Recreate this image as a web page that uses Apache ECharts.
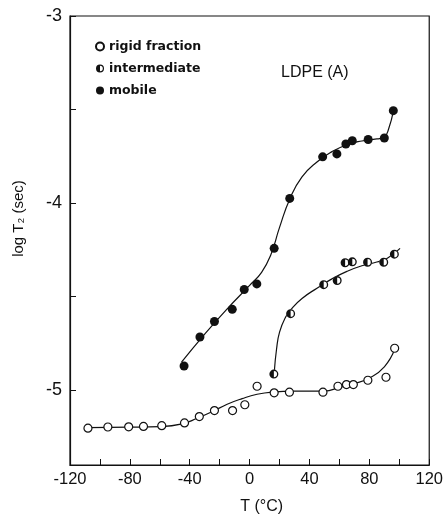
<!DOCTYPE html>
<html>
<head>
<meta charset="utf-8">
<script src="https://cdn.jsdelivr.net/npm/echarts@6/dist/echarts.min.js"></script>
<style>html,body{margin:0;padding:0;background:#fff}#c{width:446px;height:520px}</style>
</head>
<body>
<div id="c"></div>
<script>
// Measured points [T (°C), log T2 (sec)]
const rigidPts = [[-108,-5.203],[-94.7,-5.197],[-80.8,-5.196],[-70.9,-5.194],[-58.7,-5.19],[-43.5,-5.175],[-33.6,-5.141],[-23.5,-5.109],[-11.4,-5.109],[-3.2,-5.078],[5,-4.979],[16.4,-5.014],[26.6,-5.011],[49,-5.011],[59,-4.979],[64.7,-4.97],[69.3,-4.97],[79,-4.947],[91.1,-4.931],[96.9,-4.776]];
const intermPts = [[16.2,-4.914],[27.4,-4.591],[49.5,-4.436],[58.5,-4.414],[63.8,-4.319],[68.6,-4.314],[78.8,-4.316],[89.6,-4.316],[96.7,-4.273]];
const mobilePts = [[-43.8,-4.871],[-33.2,-4.716],[-23.5,-4.633],[-11.6,-4.568],[-3.6,-4.462],[4.8,-4.432],[16.4,-4.242],[26.8,-3.975],[48.8,-3.753],[58.3,-3.737],[64.3,-3.684],[68.6,-3.667],[79.2,-3.66],[90,-3.652],[96,-3.506]];

// Hand-drawn fit curves
const rigidCurve = [[-108,-5.2],[-80,-5.198],[-60,-5.195],[-45,-5.18],[-35,-5.15],[-25,-5.115],[-15,-5.075],[-5,-5.045],[5,-5.022],[15,-5.01],[30,-5.005],[50,-5.005],[60,-4.985],[70,-4.965],[80,-4.935],[90,-4.875],[97,-4.78]];
const intermCurve = [[16.5,-4.9],[18,-4.78],[20,-4.69],[24,-4.61],[28,-4.565],[35,-4.51],[45,-4.455],[55,-4.405],[65,-4.365],[75,-4.335],[85,-4.315],[92,-4.295],[100.5,-4.242]];
const mobileCurve = [[-45.5,-4.85],[-30,-4.7],[-15,-4.565],[0,-4.44],[8,-4.37],[14,-4.28],[20,-4.13],[27,-3.975],[35,-3.86],[45,-3.78],[55,-3.725],[65,-3.688],[75,-3.668],[85,-3.657],[90,-3.647],[93,-3.6],[96,-3.51]];

const xRange = [-120,120];
const xTickValues = [-120,-100,-80,-60,-40,-20,0,20,40,60,80,100,120];
const xLabelValues = [-120,-80,-40,0,40,80,120];
const yTickValues = [-5,-4.5,-4,-3.5,-3];
const yLabelValues = [-5,-4,-3];
const seriesNames = ['rigid fraction','intermediate','mobile'];

const halfPath = 'path://M10 0A10 10 0 1 1 10 20A10 10 0 1 1 10 0ZM10 3A7 7 0 1 0 10 17A7 7 0 1 0 10 3ZM10 3A7 7 0 0 0 10 17Z';
const FONT = 'Liberation Sans';
const INK = '#111';

const chart = echarts.init(document.getElementById('c'), null, {renderer:'canvas'});
const lineSeries = (d) => ({type:'line', data:d, smooth:0.5, showSymbol:false, silent:true, z:1,
  lineStyle:{color:INK, width:1.2}});
chart.setOption({
  animation:false,
  backgroundColor:'#fff',
  title:{text:'LDPE (A)', left:276, top:60, textStyle:{fontFamily:FONT, fontWeight:'normal', fontSize:16, color:INK}},
  legend:{orient:'vertical', left:90, top:35, itemGap:9, itemWidth:8, itemHeight:8,
    textStyle:{fontFamily:'DejaVu Sans', fontWeight:'bold', fontSize:12.5, color:INK},
    data:[{name:seriesNames[0]},{name:seriesNames[1], icon:halfPath},{name:seriesNames[2]}]},
  grid:{left:70, right:14, top:16, bottom:51, show:true, borderColor:INK, borderWidth:1.2},
  xAxis:{type:'value', min:xRange[0], max:xRange[1], interval:20,
    name:'T (°C)', nameLocation:'middle', nameGap:34,
    nameTextStyle:{fontFamily:FONT, fontSize:16, color:INK, padding:[0,0,0,24]},
    axisLine:{onZero:false, lineStyle:{color:INK, width:1.2}},
    axisTick:{inside:true, length:6, customValues:xTickValues, lineStyle:{color:INK}},
    axisLabel:{customValues:xLabelValues, fontFamily:FONT, fontSize:16.5, color:INK, margin:6},
    splitLine:{show:false}},
  yAxis:{type:'value', min:-5.4, max:-3,
    name:'log T₂ (sec)', nameLocation:'middle', nameGap:44,
    nameTextStyle:{fontFamily:FONT, fontSize:15, color:INK, padding:[0,0,0,44]},
    axisLine:{onZero:false, lineStyle:{color:INK, width:1.2}},
    axisTick:{inside:true, length:6, customValues:yTickValues, lineStyle:{color:INK}},
    axisLabel:{customValues:yLabelValues, fontFamily:FONT, fontSize:18, color:INK, margin:8},
    splitLine:{show:false}},
  series:[
    lineSeries(rigidCurve), lineSeries(intermCurve), lineSeries(mobileCurve),
    {name:seriesNames[0], type:'scatter', data:rigidPts, symbol:'circle', symbolSize:8, z:3,
      itemStyle:{color:'#fff', borderColor:INK, borderWidth:1.2, opacity:1}},
    {name:'_ibg', type:'scatter', data:intermPts, symbol:'circle', symbolSize:8.5, z:3,
      itemStyle:{color:'#fff', borderWidth:0, opacity:1}},
    {name:seriesNames[1], type:'scatter', data:intermPts, symbol:halfPath, symbolSize:9, z:4,
      itemStyle:{color:INK, opacity:1}},
    {name:seriesNames[2], type:'scatter', data:mobilePts, symbol:'circle', symbolSize:9, z:3,
      itemStyle:{color:INK, opacity:1}}
  ]
});
</script>
</body>
</html>
